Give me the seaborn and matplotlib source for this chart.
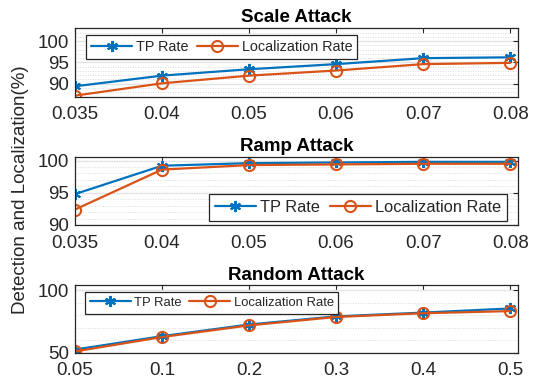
import numpy as np
import pandas as pd
import matplotlib
matplotlib.use("Agg")
import matplotlib.pyplot as plt
from matplotlib.ticker import MultipleLocator, FixedLocator
import seaborn as sns

# ---- data -------------------------------------------------------------
scale_labels = ["0.035", "0.04", "0.05", "0.06", "0.07", "0.08"]
scale_tp = [89.4, 91.9, 93.4, 94.6, 96.0, 96.2]
scale_loc = [87.2, 90.1, 91.9, 93.1, 94.6, 94.9]

ramp_labels = ["0.035", "0.04", "0.05", "0.06", "0.07", "0.08"]
ramp_tp = [94.8, 99.2, 99.6, 99.7, 99.8, 99.8]
ramp_loc = [92.4, 98.6, 99.3, 99.4, 99.5, 99.5]

random_labels = ["0.05", "0.1", "0.2", "0.3", "0.4", "0.5"]
random_tp = [52.5, 63.2, 72.5, 79.0, 82.0, 85.3]
random_loc = [51.0, 62.5, 71.8, 78.5, 81.5, 83.2]

series_names = ["TP Rate", "Localization Rate"]

# ---- style ------------------------------------------------------------
sns.set_theme(style="white")
plt.rcParams["font.family"] = ["Liberation Sans", "DejaVu Sans"]
plt.rcParams["axes.edgecolor"] = "#262626"
plt.rcParams["axes.linewidth"] = 0.9

BLUE = "#0072BD"
ORANGE = "#D95319"
TEXT = "#262626"
ASTERISK = (6, 2, 0)

W, H = 536, 386
fig = plt.figure(figsize=(W / 100, H / 100), dpi=100)


def px_axes(top, bottom, left=75, right=518):
    return fig.add_axes([left / W, 1 - bottom / H, (right - left) / W, (bottom - top) / H])


def draw(ax, title, labels, tp, loc, ylim, yticks, minor_step,
         leg_loc, leg_anchor, leg_size, handle_px=41):
    df = pd.DataFrame({"pos": np.arange(len(labels)),
                       series_names[0]: tp,
                       series_names[1]: loc})
    sns.lineplot(data=df, x="pos", y=series_names[0], ax=ax, color=BLUE,
                 lw=1.6, marker=ASTERISK, markersize=8, mec=BLUE, mew=1.5,
                 label=series_names[0], legend=False)
    sns.lineplot(data=df, x="pos", y=series_names[1], ax=ax, color=ORANGE,
                 lw=1.6, marker="o", markersize=8, mfc="none", mec=ORANGE,
                 mew=1.5, label=series_names[1], legend=False)

    ax.set_xlim(0, len(labels) - 1 + 0.09)
    ax.set_ylim(*ylim)
    ax.xaxis.set_major_locator(FixedLocator(np.arange(len(labels))))
    ax.set_xticklabels(labels)
    ax.yaxis.set_major_locator(FixedLocator(yticks))
    ax.yaxis.set_minor_locator(MultipleLocator(minor_step))
    ax.set_xlabel("")
    ax.set_ylabel("")

    ax.grid(False)
    ax.grid(True, axis="y", which="major", color="#e4e4e4", lw=1.0, ls="-")
    ax.grid(True, axis="y", which="minor", color="#cfcfcf", lw=0.6, ls=(0, (1, 2)))
    ax.set_axisbelow(True)

    ax.tick_params(which="major", direction="in", length=3.5, width=0.8,
                   top=True, right=True, color=TEXT, labelcolor=TEXT,
                   labelsize=13.5)
    ax.tick_params(axis="x", which="major", pad=7)
    ax.tick_params(axis="y", which="major", pad=4.5)
    ax.tick_params(which="minor", length=0)
    for s in ax.spines.values():
        s.set_visible(True)
        s.set_color(TEXT)

    ax.set_title(title, fontsize=13.5, fontweight="bold", color="black", pad=4)

    font_px = leg_size * 100 / 72
    leg = ax.legend(loc=leg_loc, bbox_to_anchor=leg_anchor, ncol=2,
                    frameon=True, fancybox=False, edgecolor=TEXT,
                    framealpha=1, fontsize=leg_size,
                    handlelength=handle_px / font_px,
                    handletextpad=0.25, columnspacing=0.6, borderpad=0.35,
                    borderaxespad=0)
    leg.get_frame().set_linewidth(0.9)
    for t in leg.get_texts():
        t.set_color(TEXT)


ax1 = px_axes(27.5, 96.5)
draw(ax1, "Scale Attack", scale_labels, scale_tp, scale_loc,
     (87, 103.2), [90, 95, 100], 1, "upper left", (0.025, 0.89), 10.4)

ax2 = px_axes(156.7, 225)
draw(ax2, "Ramp Attack", ramp_labels, ramp_tp, ramp_loc,
     (90, 100.6), [90, 95, 100], 1, "lower right", (0.9745, 0.059), 11.8)

ax3 = px_axes(285.3, 352.7)
draw(ax3, "Random Attack", random_labels, random_tp, random_loc,
     (50, 103.8), [50, 100], 10, "upper left", (0.0226, 0.896), 9.4)

fig.text(20.5 / W, 1 - 190 / H, "Detection and Localization(%)", rotation=90,
         ha="center", va="center", fontsize=13.5, color=TEXT)

fig.savefig("out.png", dpi=100)
